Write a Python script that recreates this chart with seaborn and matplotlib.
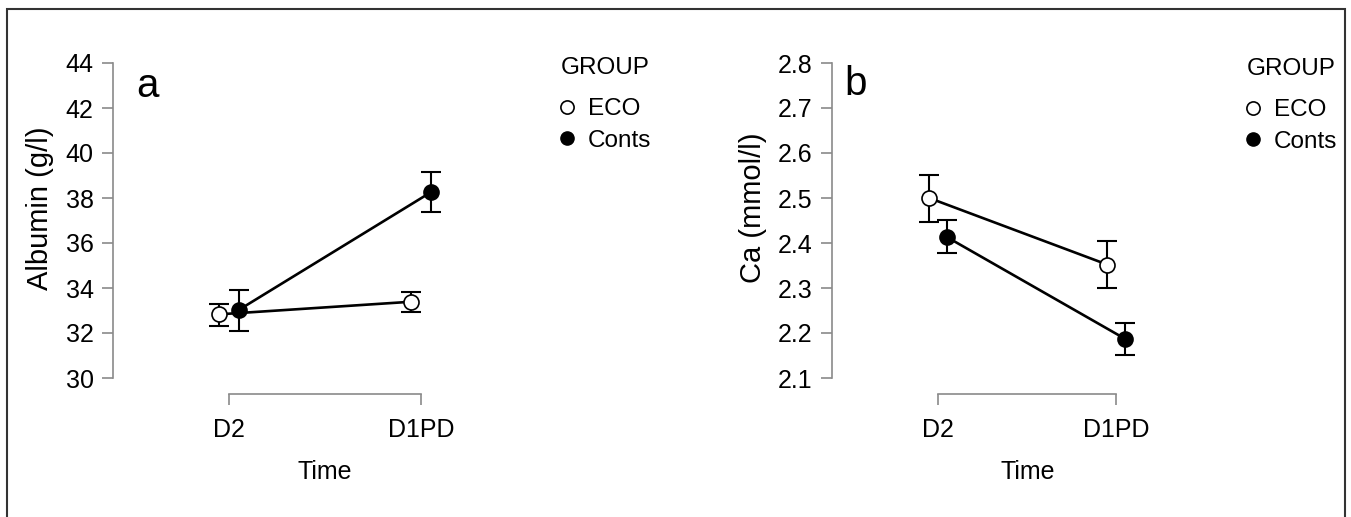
import numpy as np
import pandas as pd
import matplotlib
matplotlib.use("Agg")
import matplotlib.pyplot as plt
from matplotlib.lines import Line2D
from matplotlib.patches import Rectangle
import seaborn as sns

sns.set_style("ticks")
plt.rcParams['font.family'] = ['Liberation Sans', 'DejaVu Sans']
plt.rcParams['text.color'] = 'black'
plt.rcParams['axes.labelcolor'] = 'black'

# ---- data ----
time_points = ['D2', 'D1PD']
groups = ['ECO', 'Conts']

# panel a: albumin (g/l)
alb_eco_mean = [32.83, 33.39]
alb_eco_lo = [32.33, 32.92]
alb_eco_hi = [33.28, 33.84]
alb_conts_mean = [33.02, 38.25]
alb_conts_lo = [32.10, 37.36]
alb_conts_hi = [33.91, 39.14]
alb_ticks = [30, 32, 34, 36, 38, 40, 42, 44]

# panel b: Ca (mmol/l)
ca_eco_mean = [2.500, 2.352]
ca_eco_lo = [2.447, 2.299]
ca_eco_hi = [2.552, 2.404]
ca_conts_mean = [2.413, 2.187]
ca_conts_lo = [2.377, 2.151]
ca_conts_hi = [2.451, 2.223]
ca_ticks = [2.1, 2.2, 2.3, 2.4, 2.5, 2.6, 2.7, 2.8]

W, H = 1351, 517
GREY = '#8a8a8a'


def build_df(eco, conts):
    rows = []
    for g, (m, lo, hi) in zip(groups, [eco, conts]):
        for i, t in enumerate(time_points):
            rows.append({'time': t, 'group': g, 'mean': m[i], 'lo': lo[i], 'hi': hi[i]})
    return pd.DataFrame(rows)


def draw_panel(ax, df, ticks, ylabel, xmin, xmax):
    offsets = {'ECO': -0.05, 'Conts': 0.05}
    faces = {'ECO': 'white', 'Conts': 'black'}
    df = df.copy()
    df['x'] = df['time'].map({t: i for i, t in enumerate(time_points)}) + df['group'].map(offsets)

    for g in groups:
        sub = df[df['group'] == g]
        ax.errorbar(sub['x'], sub['mean'],
                    yerr=[sub['mean'] - sub['lo'], sub['hi'] - sub['mean']],
                    fmt='none', ecolor='black', elinewidth=1.5, capsize=7,
                    capthick=1.5, zorder=2, clip_on=False)
    for g in groups:
        sub = df[df['group'] == g]
        sns.lineplot(data=sub, x='x', y='mean', ax=ax, color='black', lw=1.9,
                     marker='o', markersize=10.8, markerfacecolor=faces[g],
                     markeredgecolor='black', markeredgewidth=1.2,
                     zorder=3, legend=False, clip_on=False)

    ax.set_xlim(xmin, xmax)
    ax.set_ylim(ticks[0], ticks[-1])
    ax.set_yticks(ticks)
    ax.set_yticklabels([f'{t:g}' for t in ticks])
    ax.set_xticks(range(len(time_points)))
    ax.set_xticklabels(time_points)

    for s in ['top', 'right']:
        ax.spines[s].set_visible(False)
    for s in ['left', 'bottom']:
        ax.spines[s].set_color(GREY)
        ax.spines[s].set_linewidth(1.2)
    ax.spines['bottom'].set_position(('outward', 11.5))
    ax.spines['bottom'].set_bounds(0, len(time_points) - 1)
    ax.tick_params(axis='y', colors=GREY, labelcolor='black', length=8, width=1.2,
                   labelsize=18, pad=6)
    ax.tick_params(axis='x', colors=GREY, labelcolor='black', length=8, width=1.2,
                   labelsize=18, pad=9)

    ax.set_xlabel('Time', fontsize=18)
    ax.xaxis.set_label_coords(0.5, -0.26)
    ax.set_ylabel(ylabel, fontsize=21, labelpad=8)
    ax.yaxis.label.set_y(0.54)


def add_legend(fig, ax, x_px, y_px):
    handles = [Line2D([], [], ls='none', marker='o', markersize=9.5, markerfacecolor='white',
                      markeredgecolor='black', markeredgewidth=1.2),
               Line2D([], [], ls='none', marker='o', markersize=9.5, markerfacecolor='black',
                      markeredgecolor='black')]
    leg = ax.legend(handles, groups, title='GROUP', loc='upper left',
                    bbox_to_anchor=(x_px / W, 1 - y_px / H), bbox_transform=fig.transFigure,
                    frameon=False, fontsize=17.5, title_fontsize=17.5, handlelength=0.5,
                    handletextpad=0.6, labelspacing=0.38, borderpad=0, borderaxespad=0,
                    alignment='left')
    leg._legend_box.sep = 14


fig = plt.figure(figsize=(W / 100, H / 100), dpi=100)
ax_a = fig.add_axes([113 / W, 1 - 378 / H, (537 - 113) / W, (378 - 63) / H])
ax_b = fig.add_axes([832 / W, 1 - 378 / H, (1223 - 832) / W, (378 - 63) / H])

df_alb = build_df((alb_eco_mean, alb_eco_lo, alb_eco_hi),
                  (alb_conts_mean, alb_conts_lo, alb_conts_hi))
df_ca = build_df((ca_eco_mean, ca_eco_lo, ca_eco_hi),
                 (ca_conts_mean, ca_conts_lo, ca_conts_hi))

draw_panel(ax_a, df_alb, alb_ticks, 'Albumin (g/l)', -0.604, 1.604)
draw_panel(ax_b, df_ca, ca_ticks, 'Ca (mmol/l)', -0.596, 1.60)

add_legend(fig, ax_a, 561, 57)
add_legend(fig, ax_b, 1247, 58)

fig.text(147 / W, 1 - 86 / H, 'a', ha='center', va='center', fontsize=29)
fig.text(856 / W, 1 - 84 / H, 'b', ha='center', va='center', fontsize=29)

# thin frame around the whole figure (open at the bottom, as in the crop)
fig.patches.append(Rectangle((7 / W, -0.2), (1345 - 7) / W, 1.2 - 9 / H,
                             transform=fig.transFigure, fill=False,
                             edgecolor='#333333', linewidth=1.5))

fig.savefig('out.png', dpi=100)
